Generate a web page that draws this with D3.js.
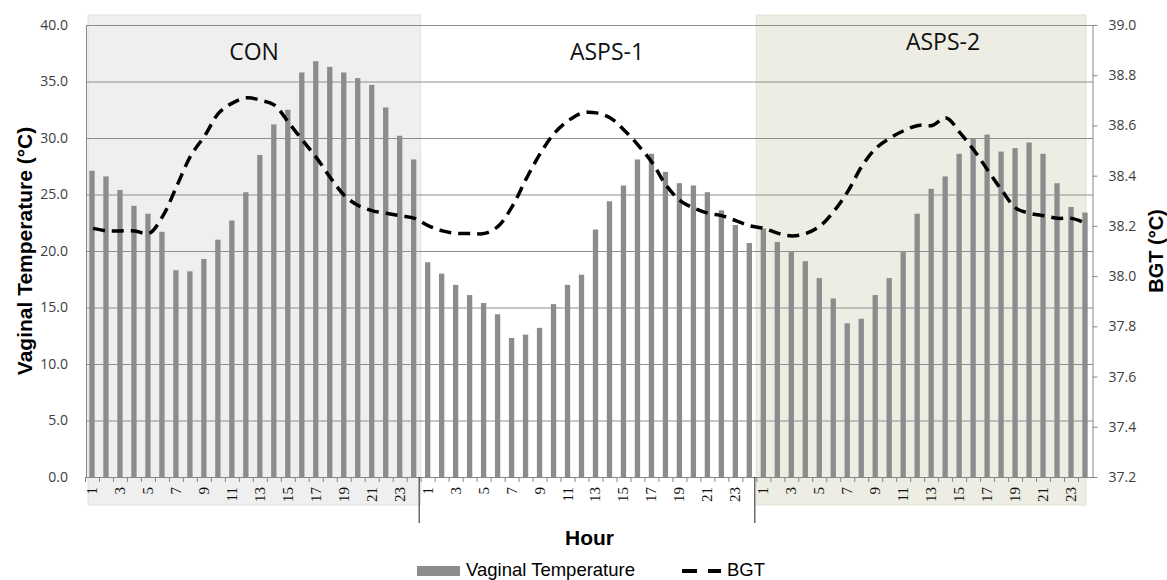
<!DOCTYPE html>
<html>
<head>
<meta charset="utf-8">
<script src="https://cdn.jsdelivr.net/npm/d3@7"></script>
<style>
  body { margin: 0; background: #fff; }
  svg { display: block; }
  .tick text { font-family: "Open Sans", sans-serif; fill: #404040; }
</style>
</head>
<body>
<svg width="1167" height="580"></svg>
<script>

// Treatment groups and the hours shown in each
var groups = ['CON', 'ASPS-1', 'ASPS-2'];
var hours = [1, 2, 3, 4, 5, 6, 7, 8, 9, 10, 11, 12, 13, 14, 15, 16, 17, 18, 19, 20, 21, 22, 23, 24];

// Vaginal temperature (°C), left axis
var vaginalCON = [27.1, 26.6, 25.4, 24.0, 23.3, 21.7, 18.3, 18.2, 19.3, 21.0, 22.7, 25.2,
                  28.5, 31.2, 32.5, 35.8, 36.8, 36.3, 35.8, 35.3, 34.7, 32.7, 30.2, 28.1];
var vaginalASPS1 = [19.0, 18.0, 17.0, 16.1, 15.4, 14.4, 12.3, 12.6, 13.2, 15.3, 17.0, 17.9,
                    21.9, 24.4, 25.8, 28.1, 28.6, 27.0, 26.0, 25.8, 25.2, 23.6, 22.3, 20.7];
var vaginalASPS2 = [22.0, 20.8, 19.9, 19.1, 17.6, 15.8, 13.6, 14.0, 16.1, 17.6, 19.9, 23.3,
                    25.5, 26.6, 28.6, 30.0, 30.3, 28.8, 29.1, 29.6, 28.6, 26.0, 23.9, 23.4];

// BGT (°C), right axis
var bgtCON = [38.19, 38.18, 38.18, 38.18, 38.17, 38.24, 38.36, 38.48, 38.56, 38.65, 38.69, 38.71,
              38.70, 38.68, 38.61, 38.54, 38.47, 38.39, 38.32, 38.28, 38.26, 38.25, 38.24, 38.23];
var bgtASPS1 = [38.20, 38.18, 38.17, 38.17, 38.17, 38.20, 38.28, 38.39, 38.49, 38.57, 38.62, 38.65,
                38.65, 38.63, 38.58, 38.52, 38.45, 38.36, 38.30, 38.27, 38.25, 38.24, 38.22, 38.20];
var bgtASPS2 = [38.19, 38.17, 38.16, 38.17, 38.20, 38.26, 38.34, 38.44, 38.51, 38.55, 38.58, 38.60,
                38.60, 38.63, 38.57, 38.50, 38.42, 38.34, 38.27, 38.25, 38.24, 38.23, 38.23, 38.21];

// Axis ticks
var leftTicks = [0, 5, 10, 15, 20, 25, 30, 35, 40];
var rightTicks = [37.2, 37.4, 37.6, 37.8, 38.0, 38.2, 38.4, 38.6, 38.8, 39.0];

var vaginal = [vaginalCON, vaginalASPS1, vaginalASPS2];
var bgt = [bgtCON, bgtASPS1, bgtASPS2];

// Flatten into one row per hour
var rows = [];
groups.forEach(function(g, gi) {
  hours.forEach(function(h, hi) {
    rows.push({key: g + '-' + h, group: g, hour: h, vt: vaginal[gi][hi], bgt: bgt[gi][hi]});
  });
});

var svg = d3.select('svg');
var plotLeft = 86, plotRight = 1093, plotTop = 25, plotBottom = 477;

var x = d3.scaleBand().domain(rows.map(d => d.key)).range([plotLeft, plotRight]).paddingInner(0.62).paddingOuter(0.31);
var step = x.step();
var yL = d3.scaleLinear().domain([0, 40]).range([plotBottom, plotTop]);
var yR = d3.scaleLinear().domain([37.2, 39.0]).range([plotBottom, plotTop]);

// Shaded panels behind CON and ASPS-2
var gStart = function(gi) { return plotLeft + gi * 24 * step; };
svg.append('rect')
    .attr('x', gStart(0) + 2).attr('y', 15)
    .attr('width', gStart(1) - gStart(0) - 3).attr('height', 490)
    .attr('fill', '#efefef').attr('stroke', '#e2e2e2');
svg.append('rect')
    .attr('x', gStart(2) - 1).attr('y', 15)
    .attr('width', gStart(3) - gStart(2) - 6).attr('height', 490)
    .attr('fill', '#eeede3').attr('stroke', '#e4e2d6');

// Gridlines
svg.append('g').selectAll('line').data(leftTicks.slice(1)).enter().append('line')
    .attr('x1', plotLeft).attr('x2', plotRight)
    .attr('y1', d => yL(d) + 0.5).attr('y2', d => yL(d) + 0.5)
    .attr('stroke', '#8e8e8e').attr('stroke-width', 1);

// Bars
svg.append('g').selectAll('rect').data(rows).enter().append('rect')
    .attr('x', d => x(d.key) - 1)
    .attr('y', d => yL(d.vt))
    .attr('width', x.bandwidth())
    .attr('height', d => plotBottom - yL(d.vt))
    .attr('fill', '#8c8c8c');

// BGT line
var line = d3.line()
    .x(d => x(d.key) + x.bandwidth() / 2)
    .y(d => yR(d.bgt))
    .curve(d3.curveCatmullRom.alpha(0.5));
svg.append('path')
    .attr('d', line(rows))
    .attr('fill', 'none')
    .attr('stroke', '#000')
    .attr('stroke-width', 3.5)
    .attr('stroke-dasharray', '12,7');

// Left axis
var axL = svg.append('g').attr('transform', 'translate(' + plotLeft + ',0)')
    .call(d3.axisLeft(yL).tickValues(leftTicks).tickFormat(d3.format('.1f')).tickSize(0).tickPadding(18));
axL.select('.domain').attr('stroke', '#868686');
axL.selectAll('text').attr('font-size', 14);

// Right axis
var axR = svg.append('g').attr('transform', 'translate(' + (plotRight - 0.5) + ',0)')
    .call(d3.axisRight(yR).tickValues(rightTicks).tickFormat(d3.format('.1f')).tickSize(5).tickSizeOuter(0).tickPadding(11));
axR.selectAll('.domain, line').attr('stroke', '#868686');
axR.selectAll('text').attr('font-size', 14);

// Bottom axis line, boundary ticks and hour labels
svg.append('line')
    .attr('x1', plotLeft).attr('x2', plotRight)
    .attr('y1', plotBottom + 0.5).attr('y2', plotBottom + 0.5)
    .attr('stroke', '#868686');
svg.append('g').selectAll('line').data(rows).enter().append('line')
    .attr('x1', d => x(d.key) - step * 0.31 - 0.5)
    .attr('x2', d => x(d.key) - step * 0.31 - 0.5)
    .attr('y1', plotBottom).attr('y2', plotBottom + 5)
    .attr('stroke', '#868686');
svg.append('g').selectAll('text').data(rows.filter(d => d.hour % 2 == 1)).enter().append('text')
    .attr('transform', d => 'translate(' + (x(d.key) + x.bandwidth() / 2 + 4) + ',' + (plotBottom + 10) + ') rotate(-90)')
    .attr('text-anchor', 'end')
    .attr('font-family', '"Liberation Serif", serif')
    .attr('font-size', 15)
    .attr('fill', '#111')
    .text(d => d.hour);

// Group separators under the axis
svg.append('g').selectAll('line').data([1, 2]).enter().append('line')
    .attr('x1', d => gStart(d) - 2.5).attr('x2', d => gStart(d) - 2.5)
    .attr('y1', plotBottom).attr('y2', 523)
    .attr('stroke', '#222').attr('stroke-width', 1);

// Group names
var groupPos = [[254, 60], [607, 60], [943, 50]];
svg.append('g').selectAll('text').data(groups).enter().append('text')
    .attr('x', (d, i) => groupPos[i][0]).attr('y', (d, i) => groupPos[i][1])
    .attr('text-anchor', 'middle')
    .attr('font-family', '"Open Sans", sans-serif')
    .attr('font-size', 23)
    .attr('fill', '#111')
    .text(d => d);

// Axis titles
svg.append('text')
    .attr('transform', 'translate(32,251) rotate(-90)')
    .attr('text-anchor', 'middle')
    .attr('font-family', '"Liberation Sans", Arial, sans-serif')
    .attr('font-weight', 'bold').attr('font-size', 21)
    .text('Vaginal Temperature (°C)');
svg.append('text')
    .attr('transform', 'translate(1163,251) rotate(-90)')
    .attr('text-anchor', 'middle')
    .attr('font-family', '"Liberation Sans", Arial, sans-serif')
    .attr('font-weight', 'bold').attr('font-size', 20)
    .text('BGT (°C)');
svg.append('text')
    .attr('x', (plotLeft + plotRight) / 2).attr('y', 545)
    .attr('text-anchor', 'middle')
    .attr('font-family', '"Liberation Sans", Arial, sans-serif')
    .attr('font-weight', 'bold').attr('font-size', 21)
    .text('Hour');

// Legend
var legend = svg.append('g').attr('font-family', '"Liberation Sans", Arial, sans-serif').attr('font-size', 18.5);
legend.append('rect').attr('x', 417).attr('y', 566).attr('width', 43).attr('height', 10).attr('fill', '#8c8c8c');
legend.append('text').attr('x', 466).attr('y', 576).text('Vaginal Temperature');
legend.append('line')
    .attr('x1', 682).attr('x2', 721).attr('y1', 571).attr('y2', 571)
    .attr('stroke', '#000').attr('stroke-width', 4).attr('stroke-dasharray', '15,11');
legend.append('text').attr('x', 727).attr('y', 576).text('BGT');

</script>
</body>
</html>
